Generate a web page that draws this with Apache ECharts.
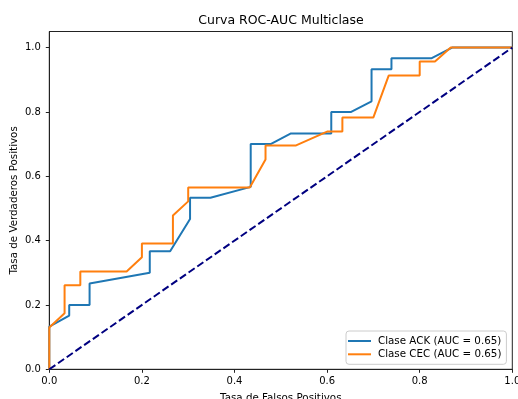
<!DOCTYPE html>
<html>
<head>
<meta charset="utf-8">
<script src="https://cdn.jsdelivr.net/npm/echarts@6/dist/echarts.min.js"></script>
<style>
  html, body { margin: 0; padding: 0; background: #fff; }
  #rocChart { width: 518px; height: 399px; }
</style>
</head>
<body>
<div id="rocChart"></div>
<script>
// ROC points (FPR, TPR)
var ackFpr = [0, 0, 0.043, 0.043, 0.087, 0.087, 0.217, 0.217, 0.261, 0.304, 0.304, 0.348, 0.435, 0.435, 0.478, 0.522, 0.609, 0.609, 0.652, 0.696, 0.696, 0.739, 0.739, 0.826, 0.87, 1]
var ackTpr = [0, 0.133, 0.167, 0.2, 0.2, 0.267, 0.3, 0.367, 0.367, 0.467, 0.533, 0.533, 0.567, 0.7, 0.7, 0.733, 0.733, 0.8, 0.8, 0.833, 0.933, 0.933, 0.967, 0.967, 1, 1]
var cecFpr = [0, 0, 0.033, 0.033, 0.067, 0.067, 0.167, 0.2, 0.2, 0.267, 0.267, 0.3, 0.3, 0.433, 0.467, 0.467, 0.533, 0.6, 0.633, 0.633, 0.7, 0.733, 0.8, 0.8, 0.833, 0.867, 1]
var cecTpr = [0, 0.13, 0.174, 0.261, 0.261, 0.304, 0.304, 0.348, 0.391, 0.391, 0.478, 0.522, 0.565, 0.565, 0.652, 0.696, 0.696, 0.739, 0.739, 0.783, 0.783, 0.913, 0.913, 0.957, 0.957, 1, 1]
var chanceX = [0, 1]
var chanceY = [0, 1]
var seriesNames = ['Clase ACK (AUC = 0.65)', 'Clase CEC (AUC = 0.65)']
var xTicks = [0, 0.2, 0.4, 0.6, 0.8, 1.0]
var yTicks = [0, 0.2, 0.4, 0.6, 0.8, 1.0]

function pairs(xs, ys) {
    return xs.map(function (x, i) { return [x, ys[i]] })
}

var font = 'DejaVu Sans'
// thin bar used as legend handle (plain line, no marker)
var lineIcon = 'path://M0,0 L23,0 L23,2 L0,2 Z'

var rocChart = echarts.init(document.getElementById('rocChart'))
rocChart.setOption({
    animation: false,
    textStyle: { fontFamily: font },
    title: {
        text: 'Curva ROC-AUC Multiclase',
        left: 281,
        top: 14,
        padding: 0,
        textAlign: 'center',
        textStyle: { fontSize: 12.5, fontWeight: 'normal', color: '#000', fontFamily: font }
    },
    grid: {
        left: 49.3,
        right: 5.7,
        top: 31.5,
        bottom: 29.7,
        outerBoundsMode: 'none',
        show: true,
        borderColor: '#222',
        borderWidth: 1,
        backgroundColor: 'transparent'
    },
    legend: {
        data: [
            { name: seriesNames[0], icon: lineIcon },
            { name: seriesNames[1], icon: lineIcon }
        ],
        orient: 'vertical',
        left: 346,
        top: 331,
        padding: [4, 5, 4, 2],
        itemWidth: 23,
        itemHeight: 12,
        itemGap: 1.3,
        backgroundColor: 'rgba(255,255,255,0.8)',
        borderColor: '#cccccc',
        borderWidth: 1,
        borderRadius: 3,
        textStyle: { fontSize: 10.3, color: '#000', fontFamily: font, lineHeight: 12, padding: [0, 0, 0, 2] }
    },
    xAxis: {
        type: 'value',
        min: 0,
        max: 1,
        interval: 0.2,
        name: 'Tasa de Falsos Positivos',
        nameLocation: 'middle',
        nameGap: 24,
        nameTextStyle: { fontSize: 10.3, color: '#000', fontFamily: font },
        axisLine: { show: true, lineStyle: { color: '#222', width: 1 } },
        axisTick: { show: true, length: 3.5, lineStyle: { color: '#222' }, customValues: xTicks },
        axisLabel: {
            fontSize: 10, color: '#000', margin: 7,
            customValues: xTicks,
            formatter: function (v) { return v.toFixed(1) }
        },
        splitLine: { show: false }
    },
    yAxis: {
        type: 'value',
        min: 0,
        max: 1.05,
        name: 'Tasa de Verdaderos Positivos',
        nameLocation: 'middle',
        nameGap: 30,
        nameMoveOverlap: false,
        nameTextStyle: { fontSize: 10.3, color: '#000', fontFamily: font },
        axisLine: { show: true, lineStyle: { color: '#222', width: 1 } },
        axisTick: { show: true, length: 3.5, lineStyle: { color: '#222' }, customValues: yTicks },
        axisLabel: {
            fontSize: 10, color: '#000', margin: 8.5,
            customValues: yTicks,
            formatter: function (v) { return v.toFixed(1) }
        },
        splitLine: { show: false }
    },
    series: [
        {
            name: seriesNames[0],
            type: 'line',
            symbol: 'none',
            data: pairs(ackFpr, ackTpr),
            itemStyle: { color: '#1f77b4' },
            lineStyle: { color: '#1f77b4', width: 2 }
        },
        {
            name: seriesNames[1],
            type: 'line',
            symbol: 'none',
            data: pairs(cecFpr, cecTpr),
            itemStyle: { color: '#ff7f0e' },
            lineStyle: { color: '#ff7f0e', width: 2 }
        },
        {
            name: 'chance',
            type: 'line',
            symbol: 'none',
            data: pairs(chanceX, chanceY),
            itemStyle: { color: '#000080' },
            lineStyle: { color: '#000080', width: 2, type: [7.4, 3.2] }
        }
    ]
})
</script>
</body>
</html>
